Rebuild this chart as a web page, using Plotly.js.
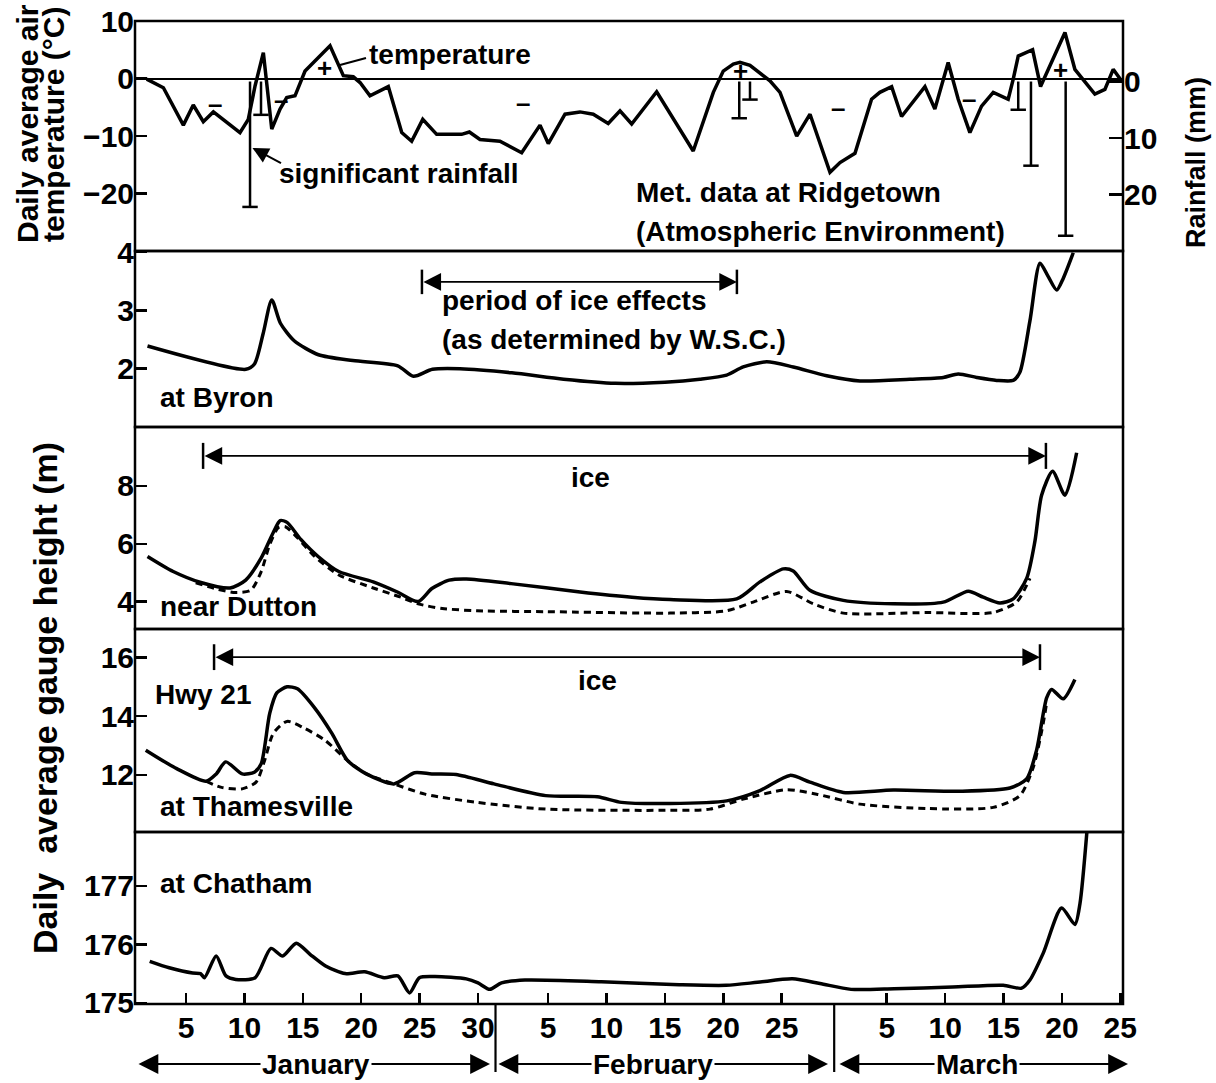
<!DOCTYPE html>
<html>
<head>
<meta charset="utf-8">
<script src="https://cdn.plot.ly/plotly-3.0.1.min.js"></script>
<style>html,body{margin:0;padding:0;background:#fff;}</style>
</head>
<body>
<div id="chart" style="width:1216px;height:1083px;"></div>
<script>
// ---------- DATA (day number: Jan 1 = 1, Feb 1 = 32, Mar 1 = 61) ----------
const tempDays = [1.63,3.06,4.77,5.62,6.48,7.34,9.62,10.33,10.91,11.62,12.34,13.05,13.62,14.33,15.19,16.19,17.33,18.47,19.32,19.9,20.75,22.32,23.47,24.32,25.27,26.46,28.6,29.26,30.17,31.88,33.74,35.31,36.02,37.45,38.73,39.87,41.15,42.16,43.16,45.3,48.43,50.15,51.0,51.86,52.43,53.29,54.14,55.0,55.86,57.29,58.43,60.14,61.0,62.28,63.7,64.41,65.42,66.27,68.27,69.12,70.26,71.12,72.12,73.12,74.12,75.4,75.83,76.26,77.49,78.17,80.26,81.11,82.82,83.68,84.39,85.1];
const tempValues = [-0.1,-1.6,-8.1,-4.6,-7.5,-5.8,-9.4,-7.1,-1.3,4.5,-8.8,-5.3,-3.3,-3.0,1.3,3.4,5.7,0.5,0.3,-0.7,-3.0,-1.4,-9.4,-10.9,-7.1,-9.7,-9.7,-9.3,-10.6,-10.9,-12.9,-8.1,-11.3,-6.2,-5.8,-6.2,-7.8,-5.6,-7.9,-2.3,-12.6,-2.4,1.3,2.5,2.8,2.3,1.0,-0.4,-2.4,-10.0,-6.2,-16.3,-14.6,-13.0,-3.6,-2.4,-1.4,-6.6,-1.4,-5.3,2.8,-3.6,-9.4,-4.8,-2.4,-3.6,-0.1,3.9,5.0,-1.4,8.0,1.6,-2.7,-1.9,1.6,-0.4];

const rainDays = [10.48,11.42,52.37,53.29,76.26,77.35,80.32];
const rainMm   = [22.2,5.9,6.5,3.2,5.0,14.9,27.3];

const byronDays = [1.7,10.12,10.86,11.6,12.34,13.08,14.26,16.34,19.29,23.13,24.47,26.1,28.46,32.89,37.33,41.77,46.0,49.0,51.29,52.71,54.72,57.0,59.86,62.71,66.99,69.84,71.12,72.7,74.41,75.83,76.4,77.26,78.12,78.83,79.55,80.11,80.97];
const byronGauge = [2.39,1.99,2.08,2.6,3.18,2.78,2.48,2.24,2.14,2.05,1.87,1.99,2.0,1.93,1.82,1.75,1.77,1.82,1.89,2.03,2.12,2.03,1.88,1.79,1.82,1.85,1.91,1.85,1.8,1.8,1.94,2.82,3.81,3.58,3.35,3.55,3.99];

const duttonDays = [1.7,3.9,6.27,8.78,10.11,11.44,12.47,13.06,13.65,14.83,16.31,18.08,21.03,23.1,24.87,26.05,27.53,29.01,32.84,38.74,43.18,46.44,52.15,54.14,56.14,56.99,58.42,61.28,65.56,69.84,71.98,73.26,74.69,75.83,76.98,77.69,78.26,79.2,80.26,81.26];
const duttonGauge = [5.56,5.04,4.66,4.47,4.74,5.51,6.39,6.8,6.74,6.15,5.56,5.04,4.68,4.33,4.0,4.45,4.74,4.78,4.62,4.33,4.15,4.07,4.09,4.68,5.13,5.06,4.39,4.04,3.92,3.98,4.36,4.15,3.95,4.09,4.8,6.09,7.68,8.51,7.68,9.15];
const duttonOpenDays = [5.83,7.75,9.22,10.55,11.44,12.17,12.91,13.5,14.54,16.01,18.08,21.03,23.39,24.87,26.94,29.9,35.8,46.44,51.29,53.57,56.43,58.71,61.28,68.42,74.12,76.12,76.98,77.26];
const duttonOpenGauge = [4.65,4.42,4.31,4.39,5.04,5.98,6.56,6.59,6.21,5.56,4.92,4.47,4.15,3.92,3.76,3.68,3.65,3.6,3.68,3.98,4.35,3.92,3.6,3.62,3.62,3.98,4.56,4.8];

const thamesDays = [1.55,4.2,6.71,7.59,8.4,9.81,10.85,11.44,12.17,12.77,13.65,14.54,16.01,17.49,18.82,20.44,22.8,24.57,26.05,28.12,31.37,35.8,40.22,42.29,46.44,51.29,54.14,56.71,58.42,61.28,65.56,71.27,75.55,76.98,77.83,78.69,79.12,80.11,81.11];
const thamesGauge = [12.84,12.21,11.78,12.03,12.44,12.03,12.09,12.38,14.1,14.79,15.0,14.93,14.28,13.41,12.49,12.03,11.69,12.07,12.03,12.01,11.69,11.29,11.25,11.06,11.02,11.11,11.46,11.98,11.75,11.4,11.48,11.44,11.55,11.86,12.84,14.62,14.91,14.59,15.25];
const thamesOpenDays = [6.71,8.04,9.81,11.0,11.73,12.47,13.65,15.12,16.89,18.82,20.44,22.8,25.46,29.89,35.8,46.44,49.86,52.71,56.43,59.0,62.71,68.42,74.12,76.4,77.55,78.4,78.69];
const thamesOpenGauge = [11.78,11.57,11.52,11.75,12.49,13.41,13.82,13.59,13.18,12.49,12.03,11.69,11.34,11.06,10.83,10.79,10.83,11.17,11.49,11.34,11.0,10.85,10.89,11.29,12.26,13.76,14.45];

const chathamDays = [1.89,3.56,5.57,6.24,6.58,7.58,8.42,9.26,10.92,12.27,13.27,14.44,15.62,16.95,18.62,20.3,21.97,23.14,24.14,24.98,26.32,29.0,30.0,31.01,32.01,34.02,40.56,47.24,51.26,53.93,56.93,59.28,61.95,65.63,70.64,74.97,76.55,77.26,78.4,79.97,81.11,81.54,82.15];
const chathamGauge = [175.71,175.6,175.51,175.5,175.43,175.8,175.46,175.4,175.43,175.93,175.8,176.02,175.83,175.63,175.5,175.53,175.43,175.46,175.17,175.43,175.45,175.41,175.34,175.23,175.34,175.39,175.36,175.31,175.3,175.35,175.41,175.33,175.23,175.24,175.27,175.3,175.25,175.39,175.85,176.62,176.34,176.69,177.95];

// ice periods (day start, day end)
const iceEffectsByron = [25.2, 52.17];
const iceDutton = [6.46, 78.63];
const iceThames = [7.4, 78.12];

// x-axis ticks
const xTickDays = [5,10,15,20,25,30,36,41,46,51,56,65,70,75,80,85];
const xTickText = ['5','10','15','20','25','30','5','10','15','20','25','5','10','15','20','25'];
const monthNames = ['January','February','March'];
const monthBoundaries = [31.5, 60.5];

// ---------- LAYOUT HELPERS ----------
const L = 135, R = 1123, T = 21, B = 1004;
const PX = x => (x - L) / (R - L);
const PY = y => (B - y) / (B - T);
const edges = [21, 251, 427, 629, 832, 1004];
const dom = i => [PY(edges[i+1]), PY(edges[i])];

const sans = '"Liberation Sans", Arial, Helvetica, sans-serif';
const tickFont = {family: sans, size: 30, color: '#000', weight: 'bold'};
const textFont = {family: sans, size: 28, color: '#000', weight: 'bold'};

const solid = {color: '#000', width: 3.5, shape: 'spline', smoothing: 0.7};
const dashed = {color: '#000', width: 3, dash: '7px,5px', shape: 'spline', smoothing: 0.7};

// rainfall stems built from data
const rx = [], ry = [];
rainDays.forEach((d, i) => { rx.push(d, d, null); ry.push(0, rainMm[i], null); });

const traces = [
  {x: tempDays, y: tempValues, xaxis: 'x', yaxis: 'y', mode: 'lines', line: {color: '#000', width: 3.5}},
  {x: rx, y: ry, xaxis: 'x', yaxis: 'y6', mode: 'lines', line: {color: '#000', width: 2.5}},
  {x: rainDays, y: rainMm, xaxis: 'x', yaxis: 'y6', mode: 'markers', marker: {symbol: 'line-ew', size: 11, line: {color: '#000', width: 2.5}}},
  {x: byronDays, y: byronGauge, xaxis: 'x', yaxis: 'y2', mode: 'lines', line: solid},
  {x: duttonOpenDays, y: duttonOpenGauge, xaxis: 'x', yaxis: 'y3', mode: 'lines', line: dashed},
  {x: duttonDays, y: duttonGauge, xaxis: 'x', yaxis: 'y3', mode: 'lines', line: solid},
  {x: thamesOpenDays, y: thamesOpenGauge, xaxis: 'x', yaxis: 'y4', mode: 'lines', line: dashed},
  {x: thamesDays, y: thamesGauge, xaxis: 'x', yaxis: 'y4', mode: 'lines', line: solid},
  {x: chathamDays, y: chathamGauge, xaxis: 'x', yaxis: 'y5', mode: 'lines', line: solid}
];

const yBase = {ticks: 'inside', ticklen: 12, tickwidth: 2.5, tickcolor: '#000', tickfont: tickFont,
  showgrid: false, zeroline: false, showline: false, anchor: 'x', fixedrange: true};

const layout = {
  width: 1216, height: 1083,
  margin: {l: L, r: 1216 - R, t: T, b: 1083 - B},
  paper_bgcolor: '#fff', plot_bgcolor: '#fff', showlegend: false,
  xaxis: {domain: [0, 1], range: [0.63, 85.23], anchor: 'y5', ticks: 'inside', ticklen: 11, tickwidth: 2.5,
    tickcolor: '#000', tickvals: xTickDays, ticktext: xTickText, tickfont: tickFont, ticklabelstandoff: 3,
    showgrid: false, zeroline: false, showline: false},
  yaxis: Object.assign({}, yBase, {domain: dom(0), range: [-29.98, 10], tickvals: [-20, -10, 0, 10],
    zeroline: true, zerolinewidth: 2, zerolinecolor: '#000'}),
  yaxis6: Object.assign({}, yBase, {overlaying: 'y', side: 'right', range: [30.0, -10.71], tickvals: [0, 10, 20], ticklen: 14}),
  yaxis2: Object.assign({}, yBase, {domain: dom(1), range: [1.0, 4.02], tickvals: [2, 3, 4]}),
  yaxis3: Object.assign({}, yBase, {domain: dom(2), range: [3.05, 10.04], tickvals: [4, 6, 8]}),
  yaxis4: Object.assign({}, yBase, {domain: dom(3), range: [10.05, 16.97], tickvals: [12, 14, 16]}),
  yaxis5: Object.assign({}, yBase, {domain: dom(4), range: [174.98, 177.92], tickvals: [175, 176, 177]}),
  shapes: [],
  annotations: []
};

// panel borders
for (let i = 0; i < 5; i++) {
  const d = dom(i);
  layout.shapes.push({type: 'rect', xref: 'paper', yref: 'paper', x0: 0, x1: 1, y0: d[0], y1: d[1],
    line: {color: '#000', width: 2.5}, layer: 'above'});
}
// month separators below axis
monthBoundaries.forEach(d => layout.shapes.push({type: 'line', xref: 'x', yref: 'paper', x0: d, x1: d,
  y0: 0, y1: PY(1072), line: {color: '#000', width: 2.2}}));

// ice period arrows
function iceArrow(period, yref, yv, half) {
  layout.annotations.push({xref: 'x', yref: yref, x: period[1], y: yv, axref: 'x', ayref: yref, ax: period[0], ay: yv,
    text: ' ', font: {size: 1}, showarrow: true, arrowside: 'end+start', arrowhead: 2, startarrowhead: 2,
    arrowsize: 2.2, startarrowsize: 2.2, arrowwidth: 1.6, arrowcolor: '#000', standoff: 0, startstandoff: 0});
  period.forEach(p => layout.shapes.push({type: 'line', xref: 'x', yref: yref, x0: p, x1: p,
    y0: yv - half, y1: yv + half, line: {color: '#000', width: 2.5}}));
}
iceArrow(iceEffectsByron, 'y2', 3.49, 0.21);
iceArrow(iceDutton, 'y3', 9.04, 0.45);
iceArrow(iceThames, 'y4', 16.01, 0.44);

// leader line for "temperature"
layout.shapes.push({type: 'line', xref: 'paper', yref: 'paper', x0: PX(340), y0: PY(65), x1: PX(366), y1: PY(58),
  line: {color: '#000', width: 2.2}});

function txt(t, x, y, opts) {
  layout.annotations.push(Object.assign({xref: 'paper', yref: 'paper', x: PX(x), y: PY(y), text: t,
    showarrow: false, xanchor: 'left', yanchor: 'middle', font: textFont}, opts || {}));
}
// significant rainfall arrow
layout.annotations.push({xref: 'paper', yref: 'paper', x: PX(252.5), y: PY(148), ax: 30, ay: 16, text: ' ',
  font: {size: 1}, showarrow: true, arrowhead: 2, arrowsize: 1.6, arrowwidth: 2, arrowcolor: '#000', standoff: 0});

txt('temperature', 367, 55);
txt('significant rainfall', 277, 173);
txt('Met. data at Ridgetown', 634, 193);
txt('(Atmospheric Environment)', 634, 231);
txt('period of ice effects', 440, 300);
txt('(as determined by W.S.C.)', 440, 340);
txt('at Byron', 158, 397);
txt('ice', 590, 477, {xanchor: 'center'});
txt('near Dutton', 158, 606);
txt('ice', 597, 680, {xanchor: 'center'});
txt('Hwy 21', 153, 694);
txt('at Thamesville', 158, 806);
txt('at Chatham', 158, 883);

// sign markers for above/below freezing
const signFont = {family: sans, size: 26, color: '#000', weight: 'bold'};
[[215,104,'–'],[281,100,'–'],[324,68,'+'],[523,103,'–'],[740,71,'+'],[838,108,'–'],[969,99,'–'],[1060,70,'+']]
  .forEach(s => txt(s[2], s[0], s[1], {xanchor: 'center', font: signFont}));

// axis titles
const titleFont = {family: sans, size: 30, color: '#000', weight: 'bold'};
txt('Daily average air', 27, 124, {xanchor: 'center', textangle: -90, font: titleFont});
txt('temperature (°C)', 54, 125, {xanchor: 'center', textangle: -90, font: titleFont});
txt('Daily  average gauge height (m)', 45, 698, {xanchor: 'center', textangle: -90, font: Object.assign({}, titleFont, {size: 34})});
txt('Rainfall (mm)', 1196, 163, {xanchor: 'center', textangle: -90, font: Object.assign({}, titleFont, {size: 27})});

// month arrows at bottom
const monthSpans = [[137, 490], [497, 828], [838, 1128]];
const monthCenters = [316, 653, 977];
monthSpans.forEach((s, i) => {
  layout.annotations.push({xref: 'paper', yref: 'paper', x: PX(s[1]), y: PY(1064), ax: s[0] - s[1], ay: 0,
    text: ' ', font: {size: 1}, showarrow: true, arrowside: 'end+start', arrowhead: 2, startarrowhead: 2,
    arrowsize: 2.2, startarrowsize: 2.2, arrowwidth: 1.8, arrowcolor: '#000', standoff: 0, startstandoff: 0});
  txt(monthNames[i], monthCenters[i], 1064, {xanchor: 'center', bgcolor: '#fff', borderpad: 1,
    font: {family: sans, size: 28, color: '#000', weight: 'bold'}});
});

Plotly.newPlot('chart', traces, layout, {staticPlot: true, displayModeBar: false});
</script>
</body>
</html>
